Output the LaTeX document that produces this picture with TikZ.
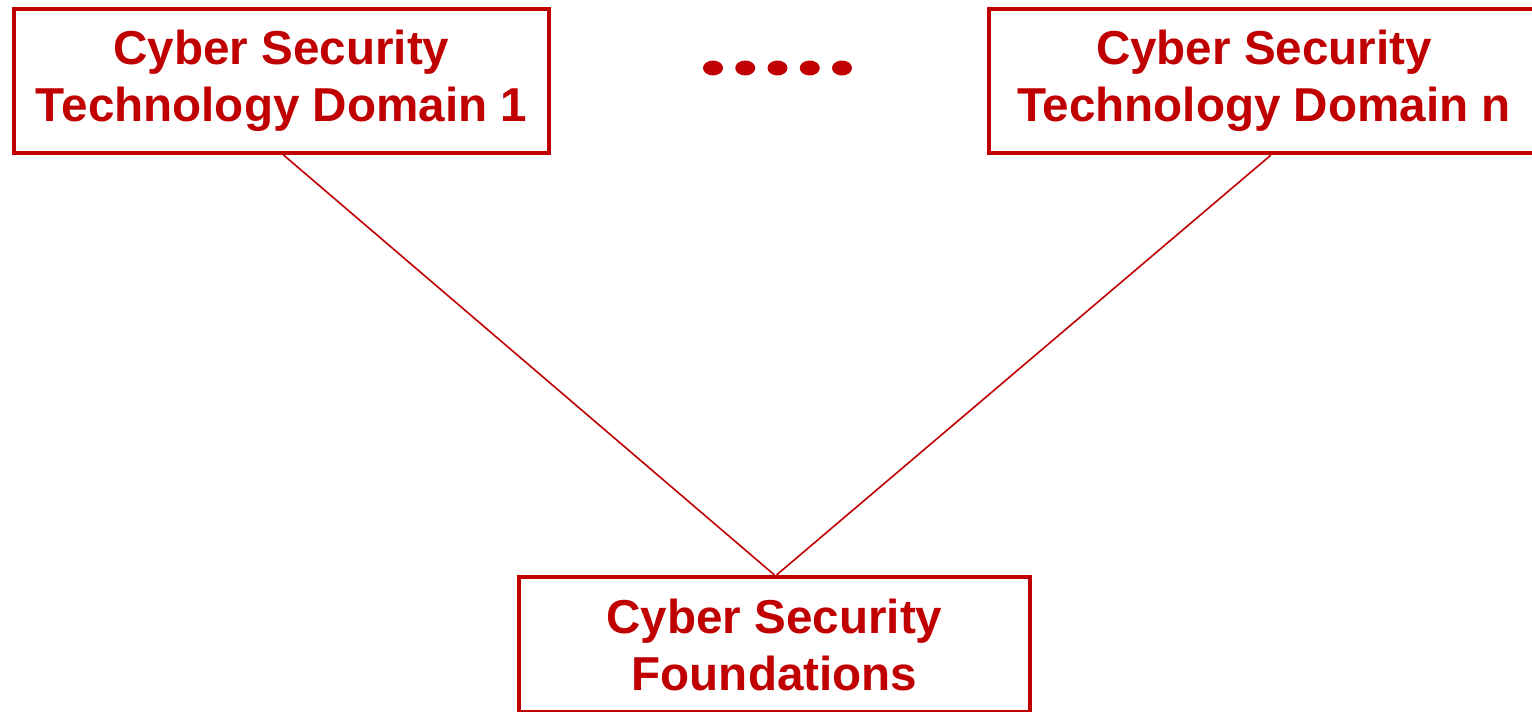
\documentclass[tikz,border=0pt]{standalone}
\usepackage{fontspec}
\setmainfont{Liberation Sans}
\usepackage{tikz}
\usepackage{xcolor}
\usetikzlibrary{positioning}
\definecolor{cyred}{HTML}{C00000}

\begin{document}
\begin{tikzpicture}[x=0.5pt, y=-0.5pt,
  domainbox/.style={draw=cyred, line width=2pt, inner sep=0pt, align=center,
    text=cyred, font=\fontsize{23.8}{28.5}\selectfont\bfseries, minimum height=72pt},
  link/.style={draw=cyred, line width=0.8pt}]
\useasboundingbox (0, 0) rectangle (1532, 712);
%Domains
\node[domainbox, minimum width=267.5pt] (dom1) at (281.5, 81) {Cyber Security\\Technology Domain 1};
\node[domainbox, minimum width=275pt] (domn) at (1264, 81) {Cyber Security\\Technology Domain n};
\node[domainbox, minimum width=255.5pt, minimum height=67.5pt] (found) at (774.5, 644.5) {Cyber Security\\Foundations};

%dots
\foreach \i in {0,1,...,4} {
  \fill[cyred] (713+32.25*\i, 68) ellipse (5pt and 3.75pt);
}

\draw[link] ([xshift=1pt]dom1.south) -- (found.north);
\draw[link] ([xshift=3.5pt]domn.south) -- ([xshift=1pt]found.north);
\end{tikzpicture}
\end{document}
